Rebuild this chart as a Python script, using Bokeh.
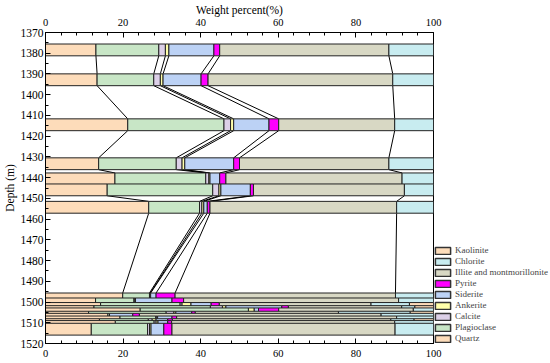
from bokeh.plotting import figure
from bokeh.models import (Range1d, LinearAxis, SingleIntervalTicker, Legend,
                          LegendItem, ColumnDataSource)
from bokeh.embed import file_html
from bokeh.resources import INLINE

# ---------------- data ----------------
depth = [1378.4, 1392.8, 1414.5, 1433.3, 1440.6, 1445.9, 1454.3,
         1498.5, 1500.9, 1503.1, 1504.6, 1505.7, 1507.3, 1508.3,
         1509.6, 1510.9, 1511.8, 1513.1]

quartz      = [13.0, 13.3, 21.2, 13.7, 17.9, 15.9, 26.6, 19.9, 12.9, 14.2, 12.5, 24.4, 11.1, 16.1, 19.2, 13.9, 18.0, 11.8]
plagioclase = [16.2, 14.6, 24.8, 20.0, 23.4, 27.2, 13.1, 6.9, 9.9, 20.5, 30.0, 27.9, 20.0, 0.4, 9.2, 12.6, 10.0, 14.5]
calcite     = [1.7, 1.7, 1.7, 1.5, 0.8, 1.6, 0.6, 0.2, 0.2, 0.5, 3.1, 0.0, 2.0, 0.0, 0.3, 1.0, 0.5, 0.5]
ankerite    = [0.9, 0.7, 0.8, 0.7, 0.3, 0.5, 0.5, 0.1, 0.2, 2.3, 0.9, 1.5, 0.5, 0.0, 0.2, 1.0, 0.5, 0.4]
siderite    = [11.6, 9.8, 9.1, 12.6, 2.5, 7.6, 0.9, 1.4, 9.4, 5.2, 14.4, 1.1, 4.1, 6.0, 3.7, 3.0, 2.5, 3.3]
pyrite      = [1.5, 1.8, 2.5, 1.5, 1.6, 0.8, 0.7, 4.9, 3.0, 2.1, 1.7, 5.2, 0.9, 1.7, 1.2, 1.2, 1.0, 2.1]
illite      = [43.6, 47.6, 29.9, 38.5, 45.4, 38.9, 48.1, 56.8, 55.4, 39.1, 29.2, 34.7, 36.9, 62.3, 56.7, 56.3, 57.5, 57.5]
chlorite    = [11.5, 10.5, 10.0, 11.5, 8.1, 7.5, 9.5, 9.8, 9.0, 9.9, 3.4, 5.2, 18.5, 13.5, 9.5, 6.0, 10.0, 9.9]
kaolinite   = [0.0, 0.0, 0.0, 0.0, 0.0, 0.0, 0.0, 0.0, 0.0, 6.2, 4.8, 0.0, 6.0, 0.0, 0.0, 5.0, 0.0, 0.0]

minerals = ["Quartz", "Plagioclase", "Calcite", "Ankerite", "Siderite",
            "Pyrite", "Illite and montmorillonite", "Chlorite", "Kaolinite"]
series = [quartz, plagioclase, calcite, ankerite, siderite, pyrite,
          illite, chlorite, kaolinite]
colors = ["#FDDCBA", "#C8E6C6", "#DCD0E8", "#FFFFAA", "#BCD2F5",
          "#FF00FF", "#D8D8C4", "#C8ECF0", "#FDDCBA"]

BAR_H = 5.7
FONT = "Liberation Serif"

# ---------------- figure ----------------
p = figure(frame_width=388, frame_height=311, output_backend="svg",
           toolbar_location=None, x_range=Range1d(0, 100),
           y_range=Range1d(1520, 1370), x_axis_location="above",
           min_border_left=38, min_border_top=31, min_border_bottom=18,
           min_border_right=0)
p.grid.visible = False
p.outline_line_color = "black"
p.outline_line_width = 1
p.background_fill_color = "white"
p.border_fill_color = "white"

# cumulative boundaries
cums = []
for i in range(len(depth)):
    c = [0.0]
    for s in series:
        c.append(c[-1] + s[i])
    cums.append(c)

# connecting lines between consecutive samples
xs, ys = [], []
for i in range(len(depth) - 1):
    for k in range(1, len(series)):
        xs.append([cums[i][k], cums[i + 1][k]])
        ys.append([depth[i] + BAR_H / 2, depth[i + 1] - BAR_H / 2])
p.multi_line(xs=xs, ys=ys, line_color="black", line_width=1)

# stacked bars, drawn sample by sample
bar = dict(y=[], left=[], right=[], color=[])
for i in range(len(depth)):
    for k in range(len(series)):
        if series[k][i] <= 0:
            continue
        bar["y"].append(depth[i])
        bar["left"].append(cums[i][k])
        bar["right"].append(cums[i][k + 1])
        bar["color"].append(colors[k])
p.hbar(y="y", left="left", right="right", height=BAR_H, fill_color="color",
       line_color="#222222", line_width=1, source=ColumnDataSource(bar))

# ---------------- axes ----------------
def style_axis(ax, size):
    ax.axis_line_color = "black"
    ax.major_tick_in = 5
    ax.major_tick_out = 0
    ax.minor_tick_in = 3
    ax.minor_tick_out = 0
    ax.major_tick_line_color = "black"
    ax.minor_tick_line_color = "black"
    ax.major_label_text_font = FONT
    ax.major_label_text_font_size = size
    ax.major_label_text_color = "black"
    ax.axis_label_text_font = FONT
    ax.axis_label_text_font_size = "11.5px"
    ax.axis_label_text_font_style = "normal"
    ax.axis_label_text_color = "black"
    ax.major_label_standoff = 2
    ax.axis_label_standoff = 0

top = p.xaxis[0]
top.ticker = SingleIntervalTicker(interval=20, num_minor_ticks=5)
top.axis_label = "Weight percent(%)"
style_axis(top, "10.5px")
top.major_label_standoff = 7

bottom = LinearAxis(ticker=SingleIntervalTicker(interval=20, num_minor_ticks=5))
style_axis(bottom, "10.5px")
bottom.major_label_standoff = 6
p.add_layout(bottom, "below")

left = p.yaxis[0]
left.ticker = SingleIntervalTicker(interval=10, num_minor_ticks=2)
left.axis_label = "Depth (m)"
style_axis(left, "11.5px")
left.axis_label_standoff = 2

# ---------------- legend ----------------
items = []
for k in reversed(range(len(minerals))):
    r = p.quad(left=[-30], right=[-20], top=[1300], bottom=[1290],
               fill_color=colors[k], line_color="#333333", line_width=1.5)
    items.append(LegendItem(label=minerals[k], renderers=[r]))
legend = Legend(items=items, location="bottom_left", label_text_font=FONT,
                label_text_font_size="9px", glyph_width=19, glyph_height=9,
                label_height=9, label_standoff=3, spacing=1, padding=2,
                margin=0, border_line_color=None, background_fill_alpha=0)
p.add_layout(legend, "right")

open("out.html", "w").write(file_html(p, INLINE))
